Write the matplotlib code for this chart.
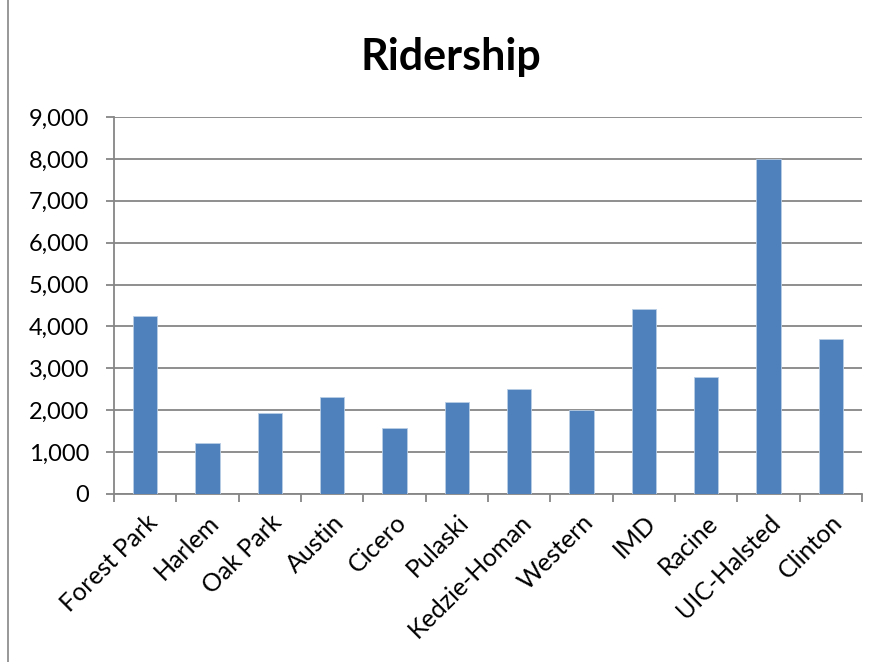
import numpy as np
import matplotlib.pyplot as plt
from matplotlib.ticker import FuncFormatter
from matplotlib.lines import Line2D

stations = ['Forest Park', 'Harlem', 'Oak Park', 'Austin', 'Cicero', 'Pulaski',
            'Kedzie-Homan', 'Western', 'IMD', 'Racine', 'UIC-Halsted', 'Clinton']
riders = [4250, 1220, 1930, 2320, 1580, 2200, 2510, 2000, 4420, 2800, 8000, 3710]
yticks = [0, 1000, 2000, 3000, 4000, 5000, 6000, 7000, 8000, 9000]

plt.rcParams['font.family'] = ['Lato', 'DejaVu Sans']

fig = plt.figure(figsize=(8.82, 6.62), dpi=100)
ax = fig.add_axes([114/882, 1-494/662, 748/882, 377/662])

x = np.arange(len(stations))
ax.bar(x, riders, width=0.39, color='#4f81bd', edgecolor='#b9cde5', linewidth=0.6, zorder=3)

ax.set_xlim(-0.5, len(stations) - 0.5)
ax.set_ylim(0, 9000)
ax.set_yticks(yticks)
ax.yaxis.set_major_formatter(FuncFormatter(lambda v, p: f'{int(v):,}'))
ax.grid(axis='y', color='#868686', lw=1.3, zorder=0)

ax.set_xticks(np.arange(len(stations) + 1) - 0.5)
ax.set_xticklabels([])
ax.set_xticks(x, minor=True)
ax.set_xticklabels(stations, minor=True, rotation=45, ha='right', rotation_mode='anchor',
                   fontsize=18)
ax.tick_params(axis='x', which='minor', length=0, pad=12)
ax.tick_params(axis='x', which='major', length=6, color='#868686', width=1.3)
ax.tick_params(axis='y', length=6, color='#868686', width=1.3, labelsize=17, pad=12)

for s in ['top', 'right']:
    ax.spines[s].set_visible(False)
for s in ['left', 'bottom']:
    ax.spines[s].set_color('#868686')
    ax.spines[s].set_linewidth(1.3)

fig.text(451/882, 1-57/662, 'Ridership', ha='center', va='center', fontsize=31, fontweight='bold')

# chart border
fig.add_artist(Line2D([8/882, 8/882], [0, 1], color='#868686', lw=1.2, transform=fig.transFigure))

fig.savefig('out.png', dpi=100)
